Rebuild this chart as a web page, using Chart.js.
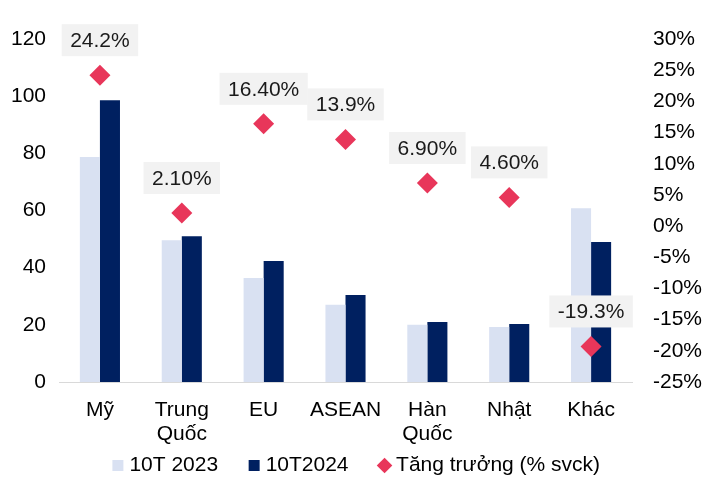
<!DOCTYPE html>
<html><head><meta charset="utf-8">
<script src="https://cdn.jsdelivr.net/npm/chart.js@4/dist/chart.umd.min.js"></script>
<style>html,body{margin:0;padding:0;background:#fff}#wrap{width:717px;height:477px}</style>
</head><body><div id="wrap"><canvas id="c"></canvas></div>
<script>
const categories = ['Mỹ', ['Trung','Quốc'], 'EU', 'ASEAN', ['Hàn','Quốc'], 'Nhật', 'Khác'];
const values2023 = [78.7, 49.6, 36.4, 27.0, 20.0, 19.2, 60.8];
const values2024 = [98.6, 51.0, 42.3, 30.4, 21.0, 20.3, 49.0];
const growth = [24.2, 2.1, 16.4, 13.9, 6.9, 4.6, -19.3];
const growthLabels = ['24.2%', '2.10%', '16.40%', '13.9%', '6.90%', '4.60%', '-19.3%'];
const leftTicks = [0, 20, 40, 60, 80, 100, 120];
const rightTicks = [30, 25, 20, 15, 10, 5, 0, -5, -10, -15, -20, -25];

const FONT = "'Liberation Sans', Arial, sans-serif";
const FS = 21;
const LEG_PAD = 35;
const LEG_CENTER_Y = 465.5;

const labelPlugin = {
  id: 'boxLabels',
  afterInit(chart) {
    const lg = chart.legend;
    if (lg) {
      const orig = lg.fit.bind(lg);
      lg.fit = function () { orig(); this.height = 31; };
    }
  },
  afterLayout(chart) {
    const lg = chart.legend;
    if (lg) {
      lg.top = LEG_CENTER_Y - LEG_PAD - FS / 2;
      lg.bottom = chart.height;
      lg.height = lg.bottom - lg.top;
    }
  },
  afterDatasetsDraw(chart) {
    const ctx = chart.ctx;
    const meta = chart.getDatasetMeta(2);
    ctx.save();
    ctx.font = FS + 'px ' + FONT;
    ctx.textAlign = 'center';
    ctx.textBaseline = 'middle';
    meta.data.forEach((pt, i) => {
      const txt = growthLabels[i];
      const w = ctx.measureText(txt).width + 17;
      const h = 32;
      const cx = pt.x, cy = pt.y - 35;
      ctx.fillStyle = '#f2f2f2';
      ctx.fillRect(cx - w / 2, cy - h / 2, w, h);
      ctx.fillStyle = '#1a1a1a';
      ctx.fillText(txt, cx, cy + 1);
    });
    ctx.restore();
  }
};

new Chart(document.getElementById('c'), {
  data: {
    labels: categories,
    datasets: [
      { type: 'bar', label: '10T 2023', data: values2023, backgroundColor: '#d9e1f2', yAxisID: 'y', order: 2,
        categoryPercentage: 0.49, barPercentage: 1.0, pointStyle: 'rect' },
      { type: 'bar', label: '10T2024', data: values2024, backgroundColor: '#002060', yAxisID: 'y', order: 2,
        categoryPercentage: 0.49, barPercentage: 1.0, pointStyle: 'rect' },
      { type: 'line', label: 'Tăng trưởng (% svck)', data: growth, yAxisID: 'y1', showLine: false, order: 1,
        pointStyle: 'rectRot', pointRadius: 10.5, pointHoverRadius: 10.5,
        backgroundColor: '#e8365a', borderColor: '#e8365a', borderWidth: 0 }
    ]
  },
  options: {
    responsive: true, maintainAspectRatio: false, animation: false,
    layout: { padding: { top: 39, left: 0, right: 0, bottom: 0 } },
    plugins: {
      legend: {
        position: 'bottom',
        labels: { usePointStyle: true, boxWidth: 2, boxHeight: 11, padding: LEG_PAD, color: '#000',
          font: { size: FS, family: FONT, lineHeight: 1.0 },
          sort: (a, b) => a.datasetIndex - b.datasetIndex }
      },
      tooltip: { enabled: false }
    },
    scales: {
      x: {
        afterFit: s => { s.height = 64; },
        grid: { display: false, drawTicks: false },
        border: { display: true, color: '#d9d9d9', width: 1 },
        ticks: { color: '#000', font: { size: FS, family: FONT, lineHeight: 1.15 }, padding: 16, maxRotation: 0, autoSkip: false }
      },
      y: {
        position: 'left', min: 0, max: 120,
        afterBuildTicks: s => { s.ticks = leftTicks.map(v => ({ value: v })); },
        afterFit: s => { s.width = 59; },
        grid: { display: false, drawTicks: false },
        border: { display: false },
        ticks: { color: '#000', font: { size: FS, family: FONT }, padding: 13 }
      },
      y1: {
        position: 'right', min: -25, max: 30,
        afterBuildTicks: s => { s.ticks = rightTicks.map(v => ({ value: v })); },
        afterFit: s => { s.width = 85; },
        grid: { display: false, drawTicks: false },
        border: { display: false },
        ticks: { color: '#000', font: { size: FS, family: FONT }, padding: 21, callback: v => v + '%' }
      }
    }
  },
  plugins: [labelPlugin]
});
</script>
</body></html>
